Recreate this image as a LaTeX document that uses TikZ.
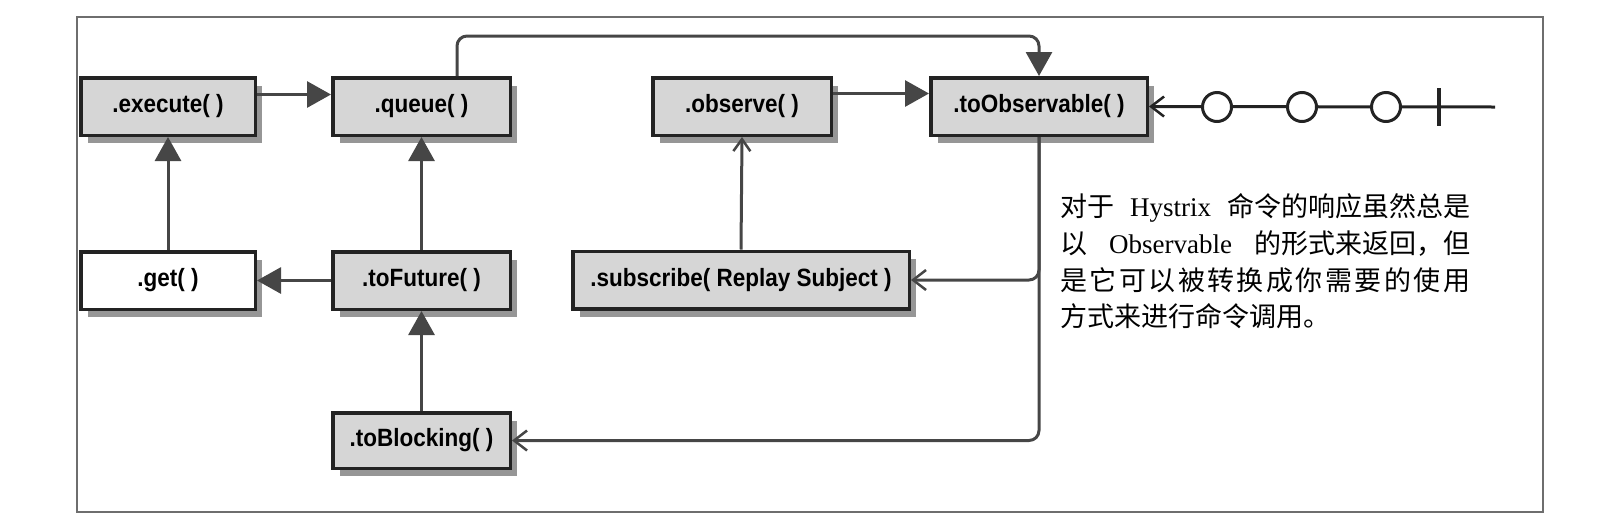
\documentclass[tikz,border=0pt]{standalone}
\usepackage{fontspec}
\setmainfont{Liberation Serif}
\newfontfamily\boxfont{Liberation Sans}[FakeStretch=0.9]
\newfontfamily\cjk{Noto Sans CJK SC}
\usetikzlibrary{arrows.meta,shadows}
\definecolor{boxgray}{RGB}{214,214,214}
\definecolor{shadowgray}{RGB}{150,150,150}
\definecolor{boxline}{RGB}{35,35,35}
\definecolor{connline}{RGB}{70,70,70}
\definecolor{framegray}{RGB}{110,110,110}
\newcommand\zh[1]{{\cjk #1}}
\tikzset{
  mbox/.style={draw=boxline, line width=3.5pt, fill=boxgray, inner sep=0pt,
    minimum height=57.5pt, font=\boxfont\bfseries\fontsize{25}{25}\selectfont,
    drop shadow={shadow xshift=7pt, shadow yshift=-8pt, fill=shadowgray, opacity=1}},
  conn/.style={draw=connline, line width=3pt},
  fillarr/.style={conn, -{Triangle[length=24pt,width=26pt]}},
  openarr/.style={conn, -{Straight Barb[length=13pt,width=20pt,line width=2.5pt]}},
  smallarr/.style={conn, -{Straight Barb[length=12pt,width=17pt,line width=2.5pt]}},
  circ/.style={circle, draw=boxline, line width=3pt, fill=white, minimum size=29pt, inner sep=0pt},
  zhline/.style={anchor=west, inner sep=0pt, font=\fontsize{27}{36}\selectfont}
}
\begin{document}
\begin{tikzpicture}[x=1pt, y=-1pt]
\path[use as bounding box] (0,0) rectangle (1606,531);
\draw[framegray, line width=1.5pt] (77,17) rectangle (1543,512);

% top row
\node[mbox, minimum width=174.5pt] (execute) at (168,106.5) {.execute( )};
\node[mbox, minimum width=177.5pt] (queue) at (421.5,106.5) {.queue( )};
\node[mbox, minimum width=178.5pt] (observe) at (742,106.5) {.observe( )};
\node[mbox, minimum width=216.5pt] (toobs) at (1039,106.5) {.toObservable( )};
% middle row
\node[mbox, minimum width=174.5pt, fill=white] (get) at (168,280.5) {.get( )};
\node[mbox, minimum width=177.5pt] (tofuture) at (421.5,280.5) {.toFuture( )};
\node[mbox, minimum width=336.5pt] (subscribe) at (741,280) {.subscribe( Replay Subject )};
% bottom row
\node[mbox, minimum width=177.5pt, minimum height=55.5pt] (toblocking) at (421.5,440.5) {.toBlocking( )};

% connectors
\draw[fillarr] ([yshift=12pt]execute.east) -- ([yshift=12pt]queue.west);
\draw[fillarr] ([yshift=13pt]observe.east) -- ([yshift=13pt]toobs.west);
\draw[fillarr] (get) -- (execute);
\draw[fillarr] (tofuture) -- (queue);
\draw[fillarr] (tofuture) -- (get);
\draw[fillarr] (toblocking) -- (tofuture);
\draw[smallarr] (subscribe.north) -- (observe.south);
\draw[fillarr, rounded corners=10pt] ([xshift=35.5pt]queue.north) |- ([yshift=40pt]toobs.north) -- (toobs.north);
\draw[openarr, rounded corners=10pt] (toobs.south) |- (subscribe.east);
\draw[openarr, rounded corners=10pt] (toobs.south) |- (toblocking.east);

% event stream
\coordinate (send) at (1495,107);
\coordinate (bar) at (1439,107);
\draw[openarr, draw=boxline] (send) -- (toobs.east);
\node[circ] (c1) at (1217,107) {};
\node[circ] (c2) at (1302,107) {};
\node[circ] (c3) at (1386,107) {};
\draw[boxline, line width=4.5pt] ([yshift=19pt]bar) -- ([yshift=-19pt]bar);

% description text
\node[zhline] (l1) at (1060,208) {\makebox[410pt][s]{\zh{对于} Hystrix \zh{命令的响应虽然总是}}};
\node[zhline] (l2) at (1060,244) {\makebox[410pt][s]{\zh{以} Observable \zh{的形式来返回，但}}};
\node[zhline] (l3) at (1060,280) {\makebox[410pt][s]{\zh{是\hfill 它\hfill 可\hfill 以\hfill 被\hfill 转\hfill 换\hfill 成\hfill 你\hfill 需\hfill 要\hfill 的\hfill 使\hfill 用}}};
\node[zhline] (l4) at (1060,316) {\zh{方式来进行命令调用。}};
\end{tikzpicture}
\end{document}
